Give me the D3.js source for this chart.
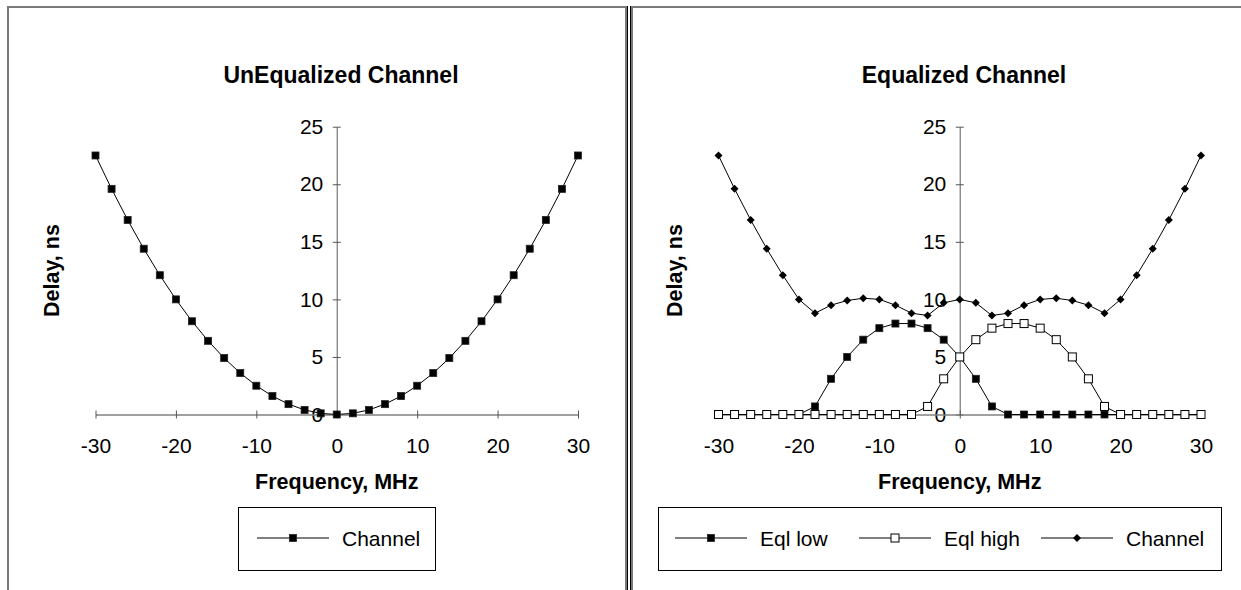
<!DOCTYPE html>
<html>
<head>
<meta charset="utf-8">
<script src="https://cdn.jsdelivr.net/npm/d3@7"></script>
<style>
  body { margin: 0; background: #fff; }
  svg { display: block; font-family: "Liberation Sans", Arial, sans-serif; }
</style>
</head>
<body>
<svg id="chart" width="1241" height="590"></svg>
<script>
// frequency points, MHz
var freq = [-30, -28, -26, -24, -22, -20, -18, -16, -14, -12, -10, -8, -6, -4, -2, 0,
            2, 4, 6, 8, 10, 12, 14, 16, 18, 20, 22, 24, 26, 28, 30];
// delay of the unequalized channel, ns
var channel = [22.5, 19.6, 16.9, 14.4, 12.1, 10.0, 8.1, 6.4, 4.9, 3.6, 2.5, 1.6, 0.9, 0.4, 0.1, 0.0,
               0.1, 0.4, 0.9, 1.6, 2.5, 3.6, 4.9, 6.4, 8.1, 10.0, 12.1, 14.4, 16.9, 19.6, 22.5];
var eqlLow = [0, 0, 0, 0, 0, 0, 0.7, 3.1, 5.0, 6.5, 7.5, 7.9, 7.9, 7.5, 6.5, 5.0,
              3.1, 0.7, 0, 0, 0, 0, 0, 0, 0, 0, 0, 0, 0, 0, 0];
var eqlHigh = [0, 0, 0, 0, 0, 0, 0, 0, 0, 0, 0, 0, 0, 0.7, 3.1, 5.0,
               6.5, 7.5, 7.9, 7.9, 7.5, 6.5, 5.0, 3.1, 0.7, 0, 0, 0, 0, 0, 0];
var channelEq = [22.5, 19.6, 16.9, 14.4, 12.1, 10.0, 8.8, 9.5, 9.9, 10.1, 10.0, 9.5, 8.8, 8.6, 9.7, 10.0,
                 9.7, 8.6, 8.8, 9.5, 10.0, 10.1, 9.9, 9.5, 8.8, 10.0, 12.1, 14.4, 16.9, 19.6, 22.5];
var xTicks = [-30, -20, -10, 0, 10, 20, 30];
var yTicks = [0, 5, 10, 15, 20, 25];

var svg = d3.select("#chart");

// panel frames
[7, 631].forEach(function (px) {
    svg.append("rect").attr("x", px + 1).attr("y", 7).attr("width", 618).attr("height", 640)
        .attr("fill", "none").attr("stroke", "#7a7a7a").attr("stroke-width", 2);
});
svg.append("line").attr("x1", 627.5).attr("x2", 627.5).attr("y1", 6).attr("y2", 590)
    .attr("stroke", "#000").attr("stroke-width", 1);
svg.append("line").attr("x1", 630.5).attr("x2", 630.5).attr("y1", 6).attr("y2", 590)
    .attr("stroke", "#000").attr("stroke-width", 1);

function drawMarker(g, type, cx, cy) {
    if (type === "square") {
        g.append("rect").attr("x", cx - 3.5).attr("y", cy - 3.5).attr("width", 7).attr("height", 7)
            .attr("fill", "#000").attr("stroke", "#222").attr("stroke-width", 0.8);
    } else if (type === "open") {
        g.append("rect").attr("x", cx - 4).attr("y", cy - 4).attr("width", 8).attr("height", 8)
            .attr("fill", "#fff").attr("stroke", "#000").attr("stroke-width", 1);
    } else {
        g.append("path").attr("d", "M" + [cx, cy - 4] + "L" + [cx + 4, cy] + "L" + [cx, cy + 4] + "L" + [cx - 4, cy] + "Z")
            .attr("fill", "#000");
    }
}

function plain(d) { return String(d); }

function drawChart(dx, title, series, legendBox, legendItems) {
    var g = svg.append("g").attr("transform", "translate(" + dx + ",0)");

    var x = d3.scaleLinear().domain([-30, 30]).range([95.5, 578]);
    var y = d3.scaleLinear().domain([0, 25]).range([414.5, 126.7]);

    // y axis, crossing at x = 0
    var yAxis = g.append("g").attr("transform", "translate(" + x(0) + ",0)")
        .call(d3.axisLeft(y).tickValues(yTicks).tickFormat(plain).tickSizeInner(8).tickSizeOuter(0).tickPadding(5.5));
    yAxis.select(".domain").attr("stroke", "#808080").attr("stroke-width", 1.3);
    yAxis.selectAll(".tick line").attr("stroke", "#555").attr("transform", "translate(4,0)");
    yAxis.selectAll(".tick text").attr("font-size", 21).attr("fill", "#000")
        .attr("font-family", "Liberation Sans, Arial, sans-serif");

    // x axis along y = 0
    var xAxis = g.append("g").attr("transform", "translate(0," + y(0) + ")")
        .call(d3.axisBottom(x).tickValues(xTicks).tickFormat(plain).tickSizeInner(8).tickSizeOuter(0).tickPadding(16));
    xAxis.select(".domain").attr("stroke", "#808080").attr("stroke-width", 1.3);
    xAxis.selectAll(".tick line").attr("stroke", "#555").attr("transform", "translate(0,-4)");
    xAxis.selectAll(".tick text").attr("font-size", 21).attr("fill", "#000")
        .attr("font-family", "Liberation Sans, Arial, sans-serif");

    // series: line first, then its markers
    var line = d3.line().x(function (d) { return x(d[0]); }).y(function (d) { return y(d[1]); });
    series.forEach(function (s) {
        var pts = freq.map(function (f, i) { return [f, s.values[i]]; });
        var sg = g.append("g");
        sg.append("path").attr("d", line(pts)).attr("fill", "none").attr("stroke", "#000").attr("stroke-width", 1);
        pts.forEach(function (p) { drawMarker(sg, s.marker, x(p[0]), y(p[1])); });
    });

    // titles
    g.append("text").attr("x", 341).attr("y", 83).attr("text-anchor", "middle")
        .attr("font-size", 23).attr("font-weight", "bold").text(title);
    g.append("text").attr("transform", "translate(59,270.5) rotate(-90)").attr("text-anchor", "middle")
        .attr("font-size", 21.5).attr("font-weight", "bold").text("Delay, ns");
    g.append("text").attr("x", x(0)).attr("y", 489).attr("text-anchor", "middle")
        .attr("font-size", 21.5).attr("font-weight", "bold").text("Frequency, MHz");

    // legend
    svg.append("rect").attr("x", legendBox[0] + 0.5).attr("y", 507.5).attr("width", legendBox[1]).attr("height", 63)
        .attr("fill", "#fff").attr("stroke", "#000").attr("stroke-width", 1);
    legendItems.forEach(function (it) {
        var lg = svg.append("g");
        lg.append("line").attr("x1", it.x0).attr("x2", it.x0 + 72).attr("y1", 538).attr("y2", 538)
            .attr("stroke", "#000").attr("stroke-width", 1);
        drawMarker(lg, it.marker, it.x0 + 36, 538);
        lg.append("text").attr("x", it.x0 + 85).attr("y", 545.5).attr("font-size", 21).text(it.label);
    });
}

drawChart(0, "UnEqualized Channel",
    [{ values: channel, marker: "square" }],
    [238, 197],
    [{ x0: 257, marker: "square", label: "Channel" }]);

drawChart(623, "Equalized Channel",
    [{ values: eqlLow, marker: "square" },
     { values: eqlHigh, marker: "open" },
     { values: channelEq, marker: "diamond" }],
    [658, 563],
    [{ x0: 675, marker: "square", label: "Eql low" },
     { x0: 859, marker: "open", label: "Eql high" },
     { x0: 1041, marker: "diamond", label: "Channel" }]);
</script>
</body>
</html>
